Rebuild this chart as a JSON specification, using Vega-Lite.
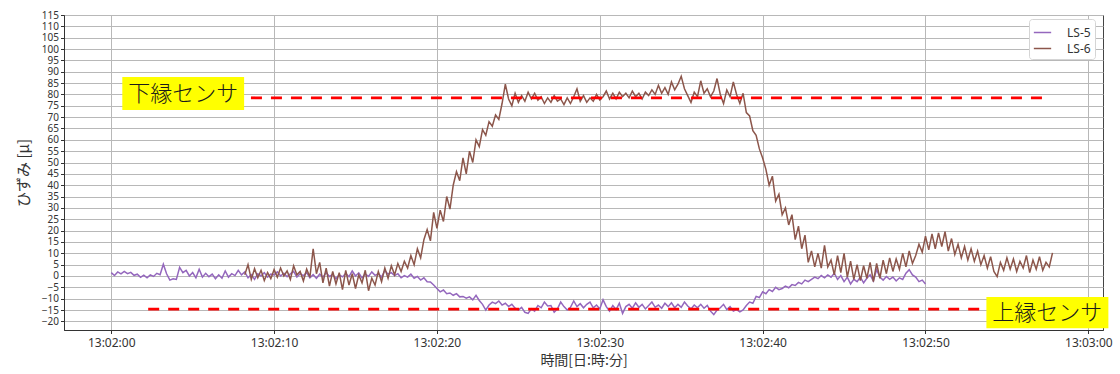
{
  "$schema": "https://vega.github.io/schema/vega-lite/v6.json",
  "width": 1039,
  "height": 315,
  "autosize": {"type": "none"},
  "padding": {"left": 64, "top": 15, "right": 17, "bottom": 44},
  "background": "white",
  "datasets": {
    "ls5": [
{"t":0.0,"v":1.5},{"t":0.2,"v":0.2},{"t":0.4,"v":1.8},{"t":0.6,"v":0.9},{"t":0.8,"v":2.0},{"t":1.0,"v":1.0},{"t":1.2,"v":1.6},{"t":1.4,"v":0.3},{"t":1.6,"v":0.8},{"t":1.8,"v":-0.6},
{"t":2.0,"v":0.4},{"t":2.2,"v":-0.8},{"t":2.4,"v":0.5},{"t":2.6,"v":-0.2},{"t":2.8,"v":1.2},{"t":3.0,"v":0.6},{"t":3.2,"v":5.2},{"t":3.4,"v":1.0},{"t":3.6,"v":-1.8},{"t":3.8,"v":-1.2},
{"t":4.0,"v":-1.5},{"t":4.2,"v":3.8},{"t":4.4,"v":1.5},{"t":4.6,"v":2.5},{"t":4.8,"v":0.0},{"t":5.0,"v":1.5},{"t":5.2,"v":-0.8},{"t":5.4,"v":3.0},{"t":5.6,"v":-0.5},{"t":5.8,"v":1.2},
{"t":6.0,"v":-0.3},{"t":6.2,"v":0.8},{"t":6.4,"v":-1.2},{"t":6.6,"v":0.5},{"t":6.8,"v":-1.0},{"t":7.0,"v":2.2},{"t":7.2,"v":-0.5},{"t":7.4,"v":1.0},{"t":7.6,"v":0.2},{"t":7.8,"v":2.5},
{"t":8.0,"v":0.5},{"t":8.2,"v":1.8},{"t":8.4,"v":-0.8},{"t":8.6,"v":0.6},{"t":8.8,"v":-1.5},{"t":9.0,"v":1.0},{"t":9.2,"v":0.0},{"t":9.4,"v":1.5},{"t":9.6,"v":-0.5},{"t":9.8,"v":0.8},
{"t":10.0,"v":0.5},{"t":10.2,"v":1.8},{"t":10.4,"v":0.0},{"t":10.6,"v":1.2},{"t":10.8,"v":-0.3},{"t":11.0,"v":0.9},{"t":11.2,"v":2.0},{"t":11.4,"v":-0.5},{"t":11.6,"v":1.0},{"t":11.8,"v":0.2},
{"t":12.0,"v":1.5},{"t":12.2,"v":-0.8},{"t":12.4,"v":0.6},{"t":12.6,"v":-1.0},{"t":12.8,"v":0.8},{"t":13.0,"v":-0.5},{"t":13.2,"v":1.5},{"t":13.4,"v":-0.2},{"t":13.6,"v":0.7},{"t":13.8,"v":-1.2},
{"t":14.0,"v":0.5},{"t":14.2,"v":-0.4},{"t":14.4,"v":1.2},{"t":14.6,"v":-0.3},{"t":14.8,"v":2.2},{"t":15.0,"v":0.0},{"t":15.2,"v":1.4},{"t":15.4,"v":-0.8},{"t":15.6,"v":0.9},{"t":15.8,"v":-0.2},
{"t":16.0,"v":1.8},{"t":16.2,"v":0.3},{"t":16.4,"v":1.0},{"t":16.6,"v":-0.5},{"t":16.8,"v":2.4},{"t":17.0,"v":0.8},{"t":17.2,"v":1.5},{"t":17.4,"v":0.2},{"t":17.6,"v":1.0},{"t":17.8,"v":-0.8},
{"t":18.0,"v":0.2},{"t":18.2,"v":-0.5},{"t":18.4,"v":0.8},{"t":18.6,"v":-1.0},{"t":18.8,"v":-0.2},{"t":19.0,"v":-1.8},{"t":19.2,"v":-0.8},{"t":19.4,"v":-2.5},{"t":19.6,"v":-2.6},{"t":19.8,"v":-4.0},
{"t":20.0,"v":-5.5},{"t":20.2,"v":-7.0},{"t":20.4,"v":-6.2},{"t":20.6,"v":-7.8},{"t":20.8,"v":-7.5},{"t":21.0,"v":-8.5},{"t":21.2,"v":-7.8},{"t":21.4,"v":-9.2},{"t":21.6,"v":-9.0},{"t":21.8,"v":-9.8},
{"t":22.0,"v":-9.2},{"t":22.2,"v":-10.5},{"t":22.4,"v":-8.5},{"t":22.6,"v":-10.8},{"t":22.8,"v":-12.5},{"t":23.0,"v":-15.0},{"t":23.2,"v":-12.8},{"t":23.4,"v":-11.5},{"t":23.6,"v":-12.2},{"t":23.8,"v":-11.0},
{"t":24.0,"v":-12.8},{"t":24.2,"v":-12.0},{"t":24.4,"v":-13.5},{"t":24.6,"v":-12.5},{"t":24.8,"v":-14.2},{"t":25.0,"v":-15.0},{"t":25.2,"v":-13.8},{"t":25.4,"v":-16.0},{"t":25.6,"v":-16.5},{"t":25.8,"v":-14.5},
{"t":26.0,"v":-15.5},{"t":26.2,"v":-13.0},{"t":26.4,"v":-14.0},{"t":26.6,"v":-11.5},{"t":26.8,"v":-13.2},{"t":27.0,"v":-13.0},{"t":27.2,"v":-16.0},{"t":27.4,"v":-14.5},{"t":27.6,"v":-11.5},{"t":27.8,"v":-13.5},
{"t":28.0,"v":-15.0},{"t":28.2,"v":-13.8},{"t":28.4,"v":-11.0},{"t":28.6,"v":-13.5},{"t":28.8,"v":-12.2},{"t":29.0,"v":-14.0},{"t":29.2,"v":-12.5},{"t":29.4,"v":-11.5},{"t":29.6,"v":-14.0},{"t":29.8,"v":-12.8},
{"t":30.0,"v":-14.5},{"t":30.2,"v":-10.5},{"t":30.4,"v":-13.5},{"t":30.6,"v":-15.5},{"t":30.8,"v":-13.0},{"t":31.0,"v":-14.8},{"t":31.2,"v":-12.0},{"t":31.4,"v":-16.5},{"t":31.6,"v":-13.5},{"t":31.8,"v":-12.5},
{"t":32.0,"v":-14.2},{"t":32.2,"v":-11.8},{"t":32.4,"v":-13.8},{"t":32.6,"v":-12.5},{"t":32.8,"v":-14.5},{"t":33.0,"v":-13.0},{"t":33.2,"v":-11.5},{"t":33.4,"v":-13.8},{"t":33.6,"v":-12.8},{"t":33.8,"v":-14.2},
{"t":34.0,"v":-12.0},{"t":34.2,"v":-13.5},{"t":34.4,"v":-11.8},{"t":34.6,"v":-14.0},{"t":34.8,"v":-12.5},{"t":35.0,"v":-13.8},{"t":35.2,"v":-11.5},{"t":35.4,"v":-13.2},{"t":35.6,"v":-14.5},{"t":35.8,"v":-12.8},
{"t":36.0,"v":-14.0},{"t":36.2,"v":-12.5},{"t":36.4,"v":-14.2},{"t":36.6,"v":-13.0},{"t":36.8,"v":-15.5},{"t":37.0,"v":-17.0},{"t":37.2,"v":-15.0},{"t":37.4,"v":-14.0},{"t":37.6,"v":-12.5},{"t":37.8,"v":-14.8},
{"t":38.0,"v":-13.5},{"t":38.2,"v":-15.5},{"t":38.4,"v":-14.8},{"t":38.6,"v":-15.8},{"t":38.8,"v":-15.0},{"t":39.0,"v":-13.0},{"t":39.2,"v":-11.5},{"t":39.4,"v":-12.0},{"t":39.6,"v":-9.0},{"t":39.8,"v":-9.5},
{"t":40.0,"v":-7.0},{"t":40.2,"v":-7.8},{"t":40.4,"v":-6.0},{"t":40.6,"v":-6.8},{"t":40.8,"v":-5.0},{"t":41.0,"v":-6.0},{"t":41.2,"v":-5.5},{"t":41.4,"v":-4.5},{"t":41.6,"v":-5.2},{"t":41.8,"v":-3.8},
{"t":42.0,"v":-4.2},{"t":42.2,"v":-2.8},{"t":42.4,"v":-3.5},{"t":42.6,"v":-1.8},{"t":42.8,"v":-2.5},{"t":43.0,"v":-1.5},{"t":43.2,"v":-0.5},{"t":43.4,"v":-1.2},{"t":43.6,"v":0.2},{"t":43.8,"v":-0.8},
{"t":44.0,"v":0.5},{"t":44.2,"v":-0.5},{"t":44.4,"v":1.2},{"t":44.6,"v":-1.5},{"t":44.8,"v":0.2},{"t":45.0,"v":-2.5},{"t":45.2,"v":-0.5},{"t":45.4,"v":-3.5},{"t":45.6,"v":-1.5},{"t":45.8,"v":-2.5},
{"t":46.0,"v":-0.5},{"t":46.2,"v":-3.0},{"t":46.4,"v":-1.0},{"t":46.6,"v":0.5},{"t":46.8,"v":-2.2},{"t":47.0,"v":2.8},{"t":47.2,"v":-0.5},{"t":47.4,"v":-1.8},{"t":47.6,"v":-0.2},{"t":47.8,"v":-1.5},
{"t":48.0,"v":-0.5},{"t":48.2,"v":-2.2},{"t":48.4,"v":-0.8},{"t":48.6,"v":-1.5},{"t":48.8,"v":1.2},{"t":49.0,"v":2.8},{"t":49.2,"v":0.5},{"t":49.4,"v":-0.5},{"t":49.6,"v":-2.5},{"t":49.8,"v":-1.8},
{"t":50.0,"v":-3.5}
    ],
    "ls6": [
{"t":8.2,"v":0.5},{"t":8.4,"v":5.0},{"t":8.6,"v":-1.5},{"t":8.8,"v":3.2},{"t":9.0,"v":-0.8},{"t":9.2,"v":2.5},{"t":9.4,"v":-2.0},{"t":9.6,"v":1.5},{"t":9.8,"v":-1.2},
{"t":10.0,"v":2.8},{"t":10.2,"v":-0.5},{"t":10.4,"v":3.5},{"t":10.6,"v":0.0},{"t":10.8,"v":2.2},{"t":11.0,"v":-1.5},{"t":11.2,"v":4.5},{"t":11.4,"v":0.5},{"t":11.6,"v":2.0},{"t":11.8,"v":-2.2},
{"t":12.0,"v":3.0},{"t":12.2,"v":-0.5},{"t":12.4,"v":12.0},{"t":12.6,"v":1.0},{"t":12.8,"v":6.0},{"t":13.0,"v":-3.0},{"t":13.2,"v":3.5},{"t":13.4,"v":-4.5},{"t":13.6,"v":2.0},{"t":13.8,"v":-3.5},
{"t":14.0,"v":1.5},{"t":14.2,"v":-6.0},{"t":14.4,"v":2.5},{"t":14.6,"v":-4.0},{"t":14.8,"v":1.0},{"t":15.0,"v":-5.5},{"t":15.2,"v":0.5},{"t":15.4,"v":-3.0},{"t":15.6,"v":2.5},{"t":15.8,"v":-6.5},
{"t":16.0,"v":-1.0},{"t":16.2,"v":-4.0},{"t":16.4,"v":2.0},{"t":16.6,"v":-2.5},{"t":16.8,"v":3.5},{"t":17.0,"v":-1.0},{"t":17.2,"v":4.5},{"t":17.4,"v":0.5},{"t":17.6,"v":5.5},{"t":17.8,"v":2.0},
{"t":18.0,"v":6.5},{"t":18.2,"v":3.5},{"t":18.4,"v":9.0},{"t":18.6,"v":5.0},{"t":18.8,"v":12.0},{"t":19.0,"v":8.0},{"t":19.2,"v":16.0},{"t":19.4,"v":20.5},{"t":19.6,"v":15.5},{"t":19.8,"v":28.0},
{"t":20.0,"v":21.0},{"t":20.2,"v":29.0},{"t":20.4,"v":24.0},{"t":20.6,"v":35.0},{"t":20.8,"v":29.5},{"t":21.0,"v":40.0},{"t":21.2,"v":46.0},{"t":21.4,"v":42.0},{"t":21.6,"v":52.0},{"t":21.8,"v":45.0},
{"t":22.0,"v":55.0},{"t":22.2,"v":50.0},{"t":22.4,"v":60.0},{"t":22.6,"v":57.0},{"t":22.8,"v":64.5},{"t":23.0,"v":62.0},{"t":23.2,"v":68.0},{"t":23.4,"v":66.0},{"t":23.6,"v":71.0},{"t":23.8,"v":69.0},
{"t":24.0,"v":76.0},{"t":24.2,"v":84.5},{"t":24.4,"v":78.0},{"t":24.6,"v":75.0},{"t":24.8,"v":80.5},{"t":25.0,"v":76.5},{"t":25.2,"v":79.5},{"t":25.4,"v":77.0},{"t":25.6,"v":81.0},{"t":25.8,"v":78.0},
{"t":26.0,"v":80.5},{"t":26.2,"v":77.5},{"t":26.4,"v":79.0},{"t":26.6,"v":76.0},{"t":26.8,"v":78.5},{"t":27.0,"v":76.5},{"t":27.2,"v":79.5},{"t":27.4,"v":77.0},{"t":27.6,"v":78.0},{"t":27.8,"v":75.5},
{"t":28.0,"v":78.5},{"t":28.2,"v":76.0},{"t":28.4,"v":79.0},{"t":28.6,"v":82.5},{"t":28.8,"v":77.0},{"t":29.0,"v":79.5},{"t":29.2,"v":76.5},{"t":29.4,"v":78.5},{"t":29.6,"v":77.0},{"t":29.8,"v":80.0},
{"t":30.0,"v":77.5},{"t":30.2,"v":79.0},{"t":30.4,"v":81.5},{"t":30.6,"v":78.0},{"t":30.8,"v":80.5},{"t":31.0,"v":78.0},{"t":31.2,"v":81.0},{"t":31.4,"v":79.0},{"t":31.6,"v":80.5},{"t":31.8,"v":78.5},
{"t":32.0,"v":81.5},{"t":32.2,"v":79.0},{"t":32.4,"v":80.5},{"t":32.6,"v":78.0},{"t":32.8,"v":81.0},{"t":33.0,"v":79.5},{"t":33.2,"v":82.0},{"t":33.4,"v":80.0},{"t":33.6,"v":84.0},{"t":33.8,"v":80.5},
{"t":34.0,"v":83.0},{"t":34.2,"v":80.0},{"t":34.4,"v":85.5},{"t":34.6,"v":82.0},{"t":34.8,"v":84.5},{"t":35.0,"v":88.0},{"t":35.2,"v":82.5},{"t":35.4,"v":79.5},{"t":35.6,"v":76.5},{"t":35.8,"v":81.0},
{"t":36.0,"v":79.0},{"t":36.2,"v":86.0},{"t":36.4,"v":80.5},{"t":36.6,"v":82.5},{"t":36.8,"v":79.0},{"t":37.0,"v":81.5},{"t":37.2,"v":87.0},{"t":37.4,"v":80.0},{"t":37.6,"v":76.0},{"t":37.8,"v":82.0},
{"t":38.0,"v":79.0},{"t":38.2,"v":85.5},{"t":38.4,"v":80.0},{"t":38.6,"v":76.0},{"t":38.8,"v":80.5},{"t":39.0,"v":72.0},{"t":39.2,"v":70.5},{"t":39.4,"v":64.0},{"t":39.6,"v":62.0},{"t":39.8,"v":56.0},
{"t":40.0,"v":52.0},{"t":40.2,"v":47.0},{"t":40.4,"v":40.0},{"t":40.6,"v":44.0},{"t":40.8,"v":33.0},{"t":41.0,"v":36.0},{"t":41.2,"v":27.0},{"t":41.4,"v":30.0},{"t":41.6,"v":22.5},{"t":41.8,"v":27.0},
{"t":42.0,"v":16.0},{"t":42.2,"v":22.0},{"t":42.4,"v":12.0},{"t":42.6,"v":18.0},{"t":42.8,"v":6.0},{"t":43.0,"v":11.0},{"t":43.2,"v":4.0},{"t":43.4,"v":10.0},{"t":43.6,"v":3.5},{"t":43.8,"v":13.5},
{"t":44.0,"v":4.0},{"t":44.2,"v":7.0},{"t":44.4,"v":0.5},{"t":44.6,"v":9.0},{"t":44.8,"v":1.5},{"t":45.0,"v":10.0},{"t":45.2,"v":-0.5},{"t":45.4,"v":6.5},{"t":45.6,"v":-1.5},{"t":45.8,"v":5.0},
{"t":46.0,"v":-2.0},{"t":46.2,"v":4.5},{"t":46.4,"v":-1.0},{"t":46.6,"v":6.0},{"t":46.8,"v":-2.5},{"t":47.0,"v":5.5},{"t":47.2,"v":-1.0},{"t":47.4,"v":7.0},{"t":47.6,"v":1.0},{"t":47.8,"v":8.0},
{"t":48.0,"v":2.0},{"t":48.2,"v":7.5},{"t":48.4,"v":3.0},{"t":48.6,"v":10.0},{"t":48.8,"v":4.0},{"t":49.0,"v":11.0},{"t":49.2,"v":5.5},{"t":49.4,"v":9.0},{"t":49.6,"v":14.0},{"t":49.8,"v":10.5},
{"t":50.0,"v":17.5},{"t":50.2,"v":11.5},{"t":50.4,"v":18.5},{"t":50.6,"v":12.0},{"t":50.8,"v":19.0},{"t":51.0,"v":13.0},{"t":51.2,"v":19.5},{"t":51.4,"v":11.0},{"t":51.6,"v":16.5},{"t":51.8,"v":9.5},
{"t":52.0,"v":14.0},{"t":52.2,"v":8.0},{"t":52.4,"v":13.0},{"t":52.6,"v":7.0},{"t":52.8,"v":12.0},{"t":53.0,"v":6.5},{"t":53.2,"v":11.0},{"t":53.4,"v":5.0},{"t":53.6,"v":9.0},{"t":53.8,"v":3.5},
{"t":54.0,"v":8.5},{"t":54.2,"v":2.0},{"t":54.4,"v":-0.3},{"t":54.6,"v":6.0},{"t":54.8,"v":2.5},{"t":55.0,"v":8.0},{"t":55.2,"v":3.0},{"t":55.4,"v":7.5},{"t":55.6,"v":2.0},{"t":55.8,"v":6.5},
{"t":56.0,"v":3.5},{"t":56.2,"v":9.0},{"t":56.4,"v":1.5},{"t":56.6,"v":7.0},{"t":56.8,"v":3.0},{"t":57.0,"v":8.5},{"t":57.2,"v":2.5},{"t":57.4,"v":6.0},{"t":57.6,"v":4.0},{"t":57.8,"v":10.2}
    ]
  },
  "encoding": {
    "x": {
      "field": "t", "type": "quantitative",
      "scale": {"domain": [-2.9, 60.9], "nice": false, "zero": false},
      "axis": {
        "title": "時間[日:時:分]",
        "values": [0, 10, 20, 30, 40, 50, 60],
        "labelExpr": "datum.value == 60 ? '13:03:00' : '13:02:' + (datum.value < 10 ? '0' : '') + datum.value",
        "labelFontSize": 12,
        "titleFontSize": 14,
        "titlePadding": 5,
        "labelPadding": 4
      }
    },
    "y": {
      "field": "v", "type": "quantitative",
      "scale": {"domain": [-23.8, 115], "nice": false, "zero": false},
      "axis": {
        "title": "ひずみ [μ]",
        "values": [-20, -15, -10, -5, 0, 5, 10, 15, 20, 25, 30, 35, 40, 45, 50, 55, 60, 65, 70, 75, 80, 85, 90, 95, 100, 105, 110, 115],
        "labelFontSize": 10,
        "titleFontSize": 15,
        "titlePadding": 10,
        "labelPadding": 2
      }
    }
  },
  "layer": [
    {
      "data": {"name": "ls5"},
      "mark": {"type": "line", "strokeWidth": 1.5},
      "encoding": {
        "color": {
          "datum": "LS-5",
          "scale": {"domain": ["LS-5", "LS-6"], "range": ["#9467bd", "#8c564b"]},
          "legend": {
            "title": null,
            "orient": "none",
            "legendX": 965,
            "legendY": 4,
            "symbolType": "stroke",
            "symbolSize": 300,
            "symbolStrokeWidth": 1.5,
            "labelFontSize": 12,
            "labelFont": "Noto Sans",
            "labelColor": "#333",
            "labelOffset": 15,
            "rowPadding": 0,
            "padding": 4,
            "strokeColor": "#d5d5d5",
            "fillColor": "white",
            "cornerRadius": 3
          }
        }
      }
    },
    {
      "data": {"name": "ls6"},
      "mark": {"type": "line", "strokeWidth": 1.5},
      "encoding": {"color": {"datum": "LS-6"}}
    },
    {
      "data": {"values": [{"t": 8.58, "t2": 57.25, "v": 78.5}, {"t": 2.27, "t2": 53.5, "v": -14.6}]},
      "mark": {"type": "rule", "color": "#ff0000", "strokeWidth": 2.8, "strokeDash": [11, 9]},
      "encoding": {"x2": {"field": "t2"}}
    },
    {
      "data": {"values": [{"t": 0.68, "t2": 8.16, "v": 87.7, "v2": 73.1}, {"t": 53.74, "t2": 61.23, "v": -9.3, "v2": -23.0}]},
      "mark": {"type": "rect", "color": "#ffff00", "clip": false},
      "encoding": {"x2": {"field": "t2"}, "y2": {"field": "v2"}}
    },
    {
      "data": {"values": [{"t": 4.42, "v": 80.4, "label": "下縁センサ"}, {"t": 57.48, "v": -16.2, "label": "上縁センサ"}]},
      "mark": {"type": "text", "font": "Noto Sans CJK JP", "fontSize": 22, "fontWeight": 300, "color": "#1a1a1a", "align": "center", "baseline": "middle", "clip": false},
      "encoding": {"text": {"field": "label"}}
    }
  ],
  "config": {
    "view": {"stroke": "#444", "strokeWidth": 1},
    "axis": {
      "grid": true,
      "gridColor": "#b8b8b8",
      "gridWidth": 1,
      "domainColor": "#333",
      "tickColor": "#333",
      "tickSize": 3.5,
      "labelColor": "#333",
      "labelFont": "Noto Sans",
      "labelOverlap": false,
      "labelFlush": false,
      "titleFont": "Noto Sans CJK JP",
      "titleFontWeight": "normal",
      "titleColor": "#333"
    }
  }
}
